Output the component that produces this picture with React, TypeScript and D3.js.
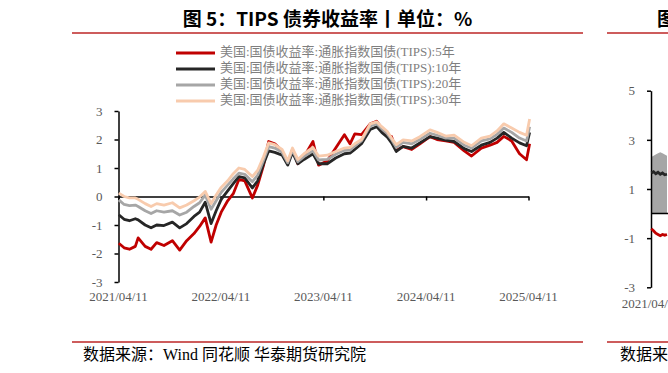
import React, { useRef, useEffect } from 'react';
import * as d3 from 'd3';

// TIPS yields (%)
const dates = [
  '2021-04-12', '2021-05-01', '2021-05-20', '2021-06-10', '2021-06-20', '2021-07-15', '2021-08-05',
  '2021-08-25', '2021-09-20', '2021-10-20', '2021-11-15', '2021-12-10', '2022-01-05', '2022-01-25',
  '2022-02-14', '2022-03-07', '2022-03-25', '2022-04-12', '2022-05-05', '2022-05-25', '2022-06-14',
  '2022-07-05', '2022-08-01', '2022-08-20', '2022-09-10', '2022-09-28', '2022-10-20', '2022-11-15',
  '2022-12-05', '2022-12-22', '2023-01-10', '2023-02-01', '2023-03-05', '2023-03-25', '2023-04-25',
  '2023-05-25', '2023-06-25', '2023-07-15', '2023-08-01', '2023-08-25', '2023-09-25', '2023-10-18',
  '2023-11-05', '2023-11-25', '2023-12-10', '2023-12-27', '2024-01-20', '2024-02-20', '2024-03-20',
  '2024-04-25', '2024-05-20', '2024-06-20', '2024-07-20', '2024-08-25', '2024-09-20', '2024-10-25',
  '2024-11-25', '2024-12-20', '2025-01-13', '2025-02-10', '2025-03-10', '2025-04-04', '2025-04-15',
];
const tips5 = [
  -1.64, -1.8, -1.85, -1.75, -1.45, -1.75, -1.85, -1.62, -1.72, -1.55, -1.88, -1.55, -1.3, -1.05,
  -0.75, -1.6, -1.0, -0.55, -0.15, 0.1, 0.6, 0.55, -0.05, 0.4, 1.1, 1.93, 1.85, 1.6,
  1.15, 1.65, 1.15, 1.4, 1.93, 1.1, 1.25, 1.7, 2.17, 1.85, 2.2, 2.17, 2.55, 2.64,
  2.4, 2.15, 2.1, 1.62, 1.75, 1.65, 1.85, 2.1, 2.0, 1.95, 1.9, 1.6, 1.42, 1.7,
  1.8, 1.9, 2.11, 1.95, 1.5, 1.29, 1.85,
];
const tips10 = [
  -0.64, -0.8, -0.85, -0.78, -0.82, -1.0, -1.1, -1.0, -1.02, -0.9, -1.1, -0.95, -0.7, -0.55,
  -0.2, -0.95, -0.5, -0.1, 0.2, 0.45, 0.7, 0.65, 0.3, 0.55, 1.15, 1.6, 1.55, 1.45,
  1.1, 1.55, 1.15, 1.3, 1.5, 1.15, 1.15, 1.35, 1.5, 1.52, 1.65, 1.85, 2.35, 2.45,
  2.25, 2.08, 1.88, 1.58, 1.76, 1.7, 1.88, 2.1, 2.05, 1.98, 1.93, 1.68, 1.58, 1.8,
  1.9, 2.05, 2.25, 2.05, 1.88, 1.78, 2.25,
];
const tips20 = [
  -0.12, -0.28, -0.32, -0.3, -0.35, -0.5, -0.6, -0.5, -0.55, -0.5, -0.65, -0.55, -0.35, -0.22,
  0.05, -0.45, -0.15, 0.15, 0.4, 0.62, 0.82, 0.78, 0.52, 0.75, 1.28, 1.75, 1.7, 1.55,
  1.18, 1.63, 1.22, 1.4, 1.6, 1.28, 1.3, 1.48, 1.62, 1.62, 1.78, 1.95, 2.48, 2.55,
  2.38, 2.2, 2.0, 1.72, 1.9, 1.85, 2.0, 2.22, 2.15, 2.05, 2.05, 1.8, 1.7, 1.95,
  2.02, 2.18, 2.4, 2.25, 2.05, 1.95, 2.45,
];
const tips30 = [
  0.12, 0.0, -0.05, -0.05, -0.1, -0.25, -0.35, -0.25, -0.3, -0.22, -0.4, -0.3, -0.15, -0.02,
  0.18, -0.25, 0.05, 0.32, 0.55, 0.8, 1.0, 0.95, 0.7, 0.92, 1.4, 1.88, 1.82, 1.65,
  1.25, 1.7, 1.3, 1.5, 1.72, 1.42, 1.45, 1.58, 1.7, 1.72, 1.85, 2.0, 2.55, 2.62,
  2.45, 2.28, 2.05, 1.82, 1.99, 1.95, 2.1, 2.34, 2.25, 2.12, 2.15, 1.9, 1.78, 2.05,
  2.12, 2.3, 2.55, 2.4, 2.25, 2.15, 2.72,
];
const seriesNames = [
  '美国:国债收益率:通胀指数国债(TIPS):5年',
  '美国:国债收益率:通胀指数国债(TIPS):10年',
  '美国:国债收益率:通胀指数国债(TIPS):20年',
  '美国:国债收益率:通胀指数国债(TIPS):30年',
];
const seriesColors = ['#C00000', '#262626', '#A6A6A6', '#F8CBAD'];
const yTicks = [-3, -2, -1, 0, 1, 2, 3];
const xTickDates = ['2021-04-11', '2022-04-11', '2023-04-11', '2024-04-11', '2025-04-11'];

// the next chart, cut off at the right edge of the picture
const rightDates = ['2021-04-12', '2021-04-20', '2021-04-28', '2021-05-06', '2021-05-14', '2021-05-22', '2021-05-30', '2021-06-07'];
const rightUpper = [2.3, 2.35, 2.4, 2.45, 2.5, 2.45, 2.4, 2.35];
const rightBlack = [1.65, 1.7, 1.62, 1.68, 1.6, 1.65, 1.58, 1.6];
const rightRed = [-0.62, -0.7, -0.8, -0.85, -0.9, -0.85, -0.88, -0.85];
const rightYTicks = [-3, -1, 1, 3, 5];

const SERIF = '"Liberation Serif", "Times New Roman", "Noto Sans CJK SC", serif';
const CJK = '"Noto Sans CJK SC", sans-serif';
const RULE = '#CD5C5C';

const App = () => {
  const svgRef = useRef<SVGSVGElement>(null);

  useEffect(() => {
    document.body.style.margin = '0';
    const svg = d3.select(svgRef.current);
    svg.selectAll('*').remove();
    const parse = d3.timeParse('%Y-%m-%d');

    // Title and rules
    svg.append('text')
      .attr('x', 327.5).attr('y', 26)
      .attr('text-anchor', 'middle')
      .attr('font-family', CJK).attr('font-weight', 'bold').attr('font-size', '19px')
      .attr('fill', '#000')
      .text('图 5：TIPS 债券收益率丨单位：%');
    svg.append('text')
      .attr('x', 657).attr('y', 26)
      .attr('font-family', CJK).attr('font-weight', 'bold').attr('font-size', '19px')
      .attr('fill', '#000')
      .text('图 6：');
    [[72, 583], [607, 700]].forEach(([a, b]) => {
      svg.append('line').attr('x1', a).attr('x2', b).attr('y1', 33).attr('y2', 33)
        .attr('stroke', RULE).attr('stroke-width', 2);
      svg.append('line').attr('x1', a).attr('x2', b).attr('y1', 342).attr('y2', 342)
        .attr('stroke', RULE).attr('stroke-width', 2);
    });

    // Source notes
    svg.append('text')
      .attr('x', 83).attr('y', 360)
      .attr('font-family', SERIF).attr('font-size', '16px').attr('fill', '#000')
      .text('数据来源：Wind 同花顺 华泰期货研究院');
    svg.append('text')
      .attr('x', 620).attr('y', 360)
      .attr('font-family', SERIF).attr('font-size', '16px').attr('fill', '#000')
      .text('数据来源：Wind');

    // Main chart scales
    const x = d3.scaleTime()
      .domain([parse('2021-04-11'), parse('2025-04-11')])
      .range([118.5, 528.5]);
    const y = d3.scaleLinear().domain([-3, 3]).range([282, 111]);

    // Legend
    seriesNames.forEach((name, i) => {
      const ly = 53 + i * 16;
      svg.append('line')
        .attr('x1', 176).attr('x2', 215).attr('y1', ly).attr('y2', ly)
        .attr('stroke', seriesColors[i]).attr('stroke-width', 3);
      svg.append('text')
        .attr('x', 220).attr('y', ly)
        .attr('dominant-baseline', 'middle')
        .attr('font-family', SERIF).attr('font-size', '13px').attr('fill', '#7F7F7F')
        .text(name);
    });

    // Y axis
    const yAxis = svg.append('g')
      .attr('transform', 'translate(118.5,0)')
      .call(d3.axisLeft(y).tickValues(yTicks).tickSize(4).tickSizeOuter(0).tickPadding(12)
        .tickFormat(d => String(d)));
    yAxis.select('.domain').attr('stroke', '#000').attr('stroke-width', 1.5);
    yAxis.selectAll('line').attr('stroke', '#000').attr('stroke-width', 1.5);
    yAxis.selectAll('text').attr('font-family', SERIF).attr('font-size', '13px').attr('fill', '#595959');

    // Zero line with year ticks
    const xAxis = svg.append('g')
      .attr('transform', `translate(0,${y(0)})`)
      .call(d3.axisBottom(x).tickValues(xTickDates.map(d => parse(d))).tickSize(4).tickSizeOuter(0)
        .tickFormat(() => ''));
    xAxis.select('.domain').attr('stroke', '#000').attr('stroke-width', 1.5);
    xAxis.selectAll('line').attr('stroke', '#000').attr('stroke-width', 1.5);

    svg.selectAll('text.xlabel')
      .data(xTickDates)
      .join('text')
      .attr('class', 'xlabel')
      .attr('x', d => x(parse(d)))
      .attr('y', 298)
      .attr('text-anchor', 'middle')
      .attr('dominant-baseline', 'middle')
      .attr('font-family', SERIF).attr('font-size', '13px').attr('fill', '#595959')
      .text(d => d.replace(/-/g, '/'));

    // Lines
    const seriesValues = [tips5, tips10, tips20, tips30];
    const line = d3.line<number>()
      .x((_, i) => x(parse(dates[i])))
      .y(d => y(d));
    seriesValues.forEach((vals, i) => {
      svg.append('path')
        .datum(vals)
        .attr('d', line)
        .attr('fill', 'none')
        .attr('stroke', seriesColors[i])
        .attr('stroke-width', 2.8)
        .attr('stroke-linejoin', 'round');
    });

    // Right (cut-off) chart
    const rx = d3.scaleTime()
      .domain([parse('2021-04-11'), parse('2025-04-11')])
      .range([651, 1061]);
    const ry = d3.scaleLinear().domain([-3, 5]).range([287.3, 90.7]);

    const area = d3.area<number>()
      .x((_, i) => rx(parse(rightDates[i])))
      .y0(ry(0))
      .y1(d => ry(d));
    svg.append('path').datum(rightUpper).attr('d', area).attr('fill', '#A6A6A6');

    const rAxis = svg.append('g')
      .attr('transform', 'translate(651,0)')
      .call(d3.axisLeft(ry).tickValues(rightYTicks).tickSize(4).tickSizeOuter(0).tickPadding(12)
        .tickFormat(d => String(d)));
    rAxis.select('.domain').attr('stroke', '#000').attr('stroke-width', 1.5);
    rAxis.selectAll('line').attr('stroke', '#000').attr('stroke-width', 1.5);
    rAxis.selectAll('text').attr('font-family', SERIF).attr('font-size', '13px').attr('fill', '#595959');

    svg.append('line')
      .attr('x1', 651).attr('x2', 700).attr('y1', ry(0)).attr('y2', ry(0))
      .attr('stroke', '#000').attr('stroke-width', 1.5);

    const rline = d3.line<number>()
      .x((_, i) => rx(parse(rightDates[i])))
      .y(d => ry(d));
    [[rightBlack, '#262626'], [rightRed, '#C00000']].forEach(([vals, c]) => {
      svg.append('path')
        .datum(vals as number[])
        .attr('d', rline)
        .attr('fill', 'none')
        .attr('stroke', c as string)
        .attr('stroke-width', 2.8);
    });

    svg.append('text')
      .attr('x', 651).attr('y', 305)
      .attr('text-anchor', 'middle')
      .attr('dominant-baseline', 'middle')
      .attr('font-family', SERIF).attr('font-size', '13px').attr('fill', '#595959')
      .text('2021/04/11');
  }, []);

  return (
    <svg
      ref={svgRef}
      width={668}
      height={373}
      style={{ display: 'block', background: '#fff' }}
    />
  );
};

export default App;
